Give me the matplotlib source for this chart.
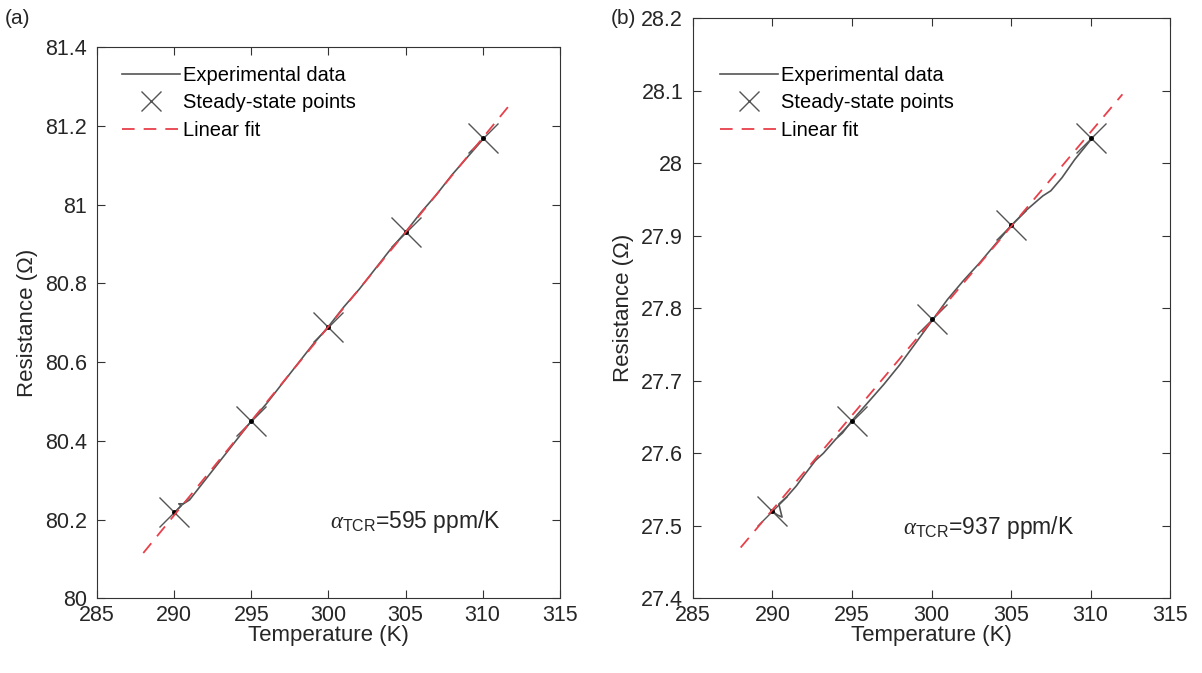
import numpy as np
import matplotlib.pyplot as plt

plt.rcParams['font.family'] = ['Liberation Sans', 'DejaVu Sans']
plt.rcParams['mathtext.fontset'] = 'custom'
plt.rcParams['mathtext.rm'] = 'Liberation Sans'
plt.rcParams['mathtext.it'] = 'Liberation Serif:italic'

# (a) data
exp_T_a = [290.0, 290.2, 290.45, 290.3, 290.6, 291, 292, 293, 294, 295, 296, 297, 298,
           299, 300, 301, 302, 303, 304, 305, 306, 307, 308, 309, 310]
exp_R_a = [80.215, 80.225, 80.235, 80.24, 80.24, 80.25, 80.30, 80.35, 80.40, 80.45, 80.495,
           80.545, 80.595, 80.645, 80.69, 80.74, 80.785, 80.835, 80.885, 80.93, 80.98,
           81.025, 81.075, 81.12, 81.165]
ss_T_a = [290, 295, 300, 305, 310]
ss_R_a = [80.22, 80.45, 80.69, 80.93, 81.17]
fit_T_a = [288, 312]
fit_R_a = [80.115, 81.265]

# (b) data
exp_T_b = [290.0, 290.3, 290.6, 290.4, 290.9, 291.5, 292, 292.7, 293.2, 293.6, 294.0,
           294.4, 295, 296, 297, 298, 299, 300, 301, 302, 303, 304, 305, 306, 307,
           307.5, 308.2, 309, 310]
exp_R_b = [27.52, 27.515, 27.512, 27.53, 27.54, 27.555, 27.57, 27.59, 27.6, 27.61, 27.62,
           27.628, 27.645, 27.67, 27.695, 27.722, 27.752, 27.782, 27.812, 27.838, 27.862,
           27.888, 27.914, 27.936, 27.955, 27.962, 27.98, 28.005, 28.032]
ss_T_b = [290, 295, 300, 305, 310]
ss_R_b = [27.52, 27.645, 27.785, 27.915, 28.035]
fit_T_b = [288, 312]
fit_R_b = [27.47, 28.095]

W, H = 1202, 673
fig = plt.figure(figsize=(W / 100, H / 100), dpi=100)
ax1 = fig.add_axes([0.0807, 0.111, 0.385, 0.819])
ax2 = fig.add_axes([0.5765, 0.111, 0.397, 0.862])


def draw(ax, eT, eR, sT, sR, fT, fR, ylim, yticks, ylabels, txt, txt_xy, leg_xy):
    ax.plot(eT, eR, color='#555555', lw=1.2, label='Experimental data')
    ax.plot(sT, sR, ls='none', marker='x', ms=21, mew=1.0, color='#555555',
            label='Steady-state points')
    ax.plot(sT, sR, ls='none', marker='o', ms=2.5, color='black')
    ax.plot(fT, fR, color='#e8404a', lw=1.3, ls=(0, (7, 5)), label='Linear fit')
    ax.set_xlim(285, 315)
    ax.set_ylim(*ylim)
    ax.set_xticks([285, 290, 295, 300, 305, 310, 315])
    ax.set_yticks(yticks)
    ax.set_yticklabels(ylabels)
    ax.tick_params(direction='in', top=True, right=True, labelsize=15.5, length=6,
                   color='#333333', labelcolor='#262626', width=0.8)
    ax.tick_params(axis='y', pad=7)
    ax.tick_params(axis='x', pad=5)
    for s in ax.spines.values():
        s.set_color('#333333')
        s.set_linewidth(0.8)
    ax.set_xlabel('Temperature (K)', fontsize=16, color='#262626', labelpad=-1)
    ax.set_ylabel('Resistance (\u03a9)', fontsize=16, color='#262626', labelpad=5)
    ax.text(txt_xy[0], txt_xy[1], txt, fontsize=16.5, color='#262626', va='center')
    ax.legend(loc='upper left', bbox_to_anchor=(leg_xy[0] / W, 1 - leg_xy[1] / H),
              bbox_transform=fig.transFigure, frameon=False, fontsize=14.5,
              handlelength=2.9, handletextpad=0.15, labelspacing=0.42, borderpad=0,
              borderaxespad=0, markerscale=0.7)


draw(ax1, exp_T_a, exp_R_a, ss_T_a, ss_R_a, fit_T_a, fit_R_a, (80, 81.4),
     [80, 80.2, 80.4, 80.6, 80.8, 81, 81.2, 81.4],
     ['80', '80.2', '80.4', '80.6', '80.8', '81', '81.2', '81.4'],
     r'$\mathit{\alpha}_{\mathrm{TCR}}$=595 ppm/K', (300.1, 80.195), (122, 66))
draw(ax2, exp_T_b, exp_R_b, ss_T_b, ss_R_b, fit_T_b, fit_R_b, (27.4, 28.2),
     [27.4, 27.5, 27.6, 27.7, 27.8, 27.9, 28.0, 28.1, 28.2],
     ['27.4', '27.5', '27.6', '27.7', '27.8', '27.9', '28', '28.1', '28.2'],
     r'$\mathit{\alpha}_{\mathrm{TCR}}$=937 ppm/K', (298.2, 27.497), (720, 66))

fig.text(0.004, 0.965, '(a)', fontsize=15, color='#262626')
fig.text(0.508, 0.965, '(b)', fontsize=15, color='#262626')

fig.savefig('out.png', dpi=100)
